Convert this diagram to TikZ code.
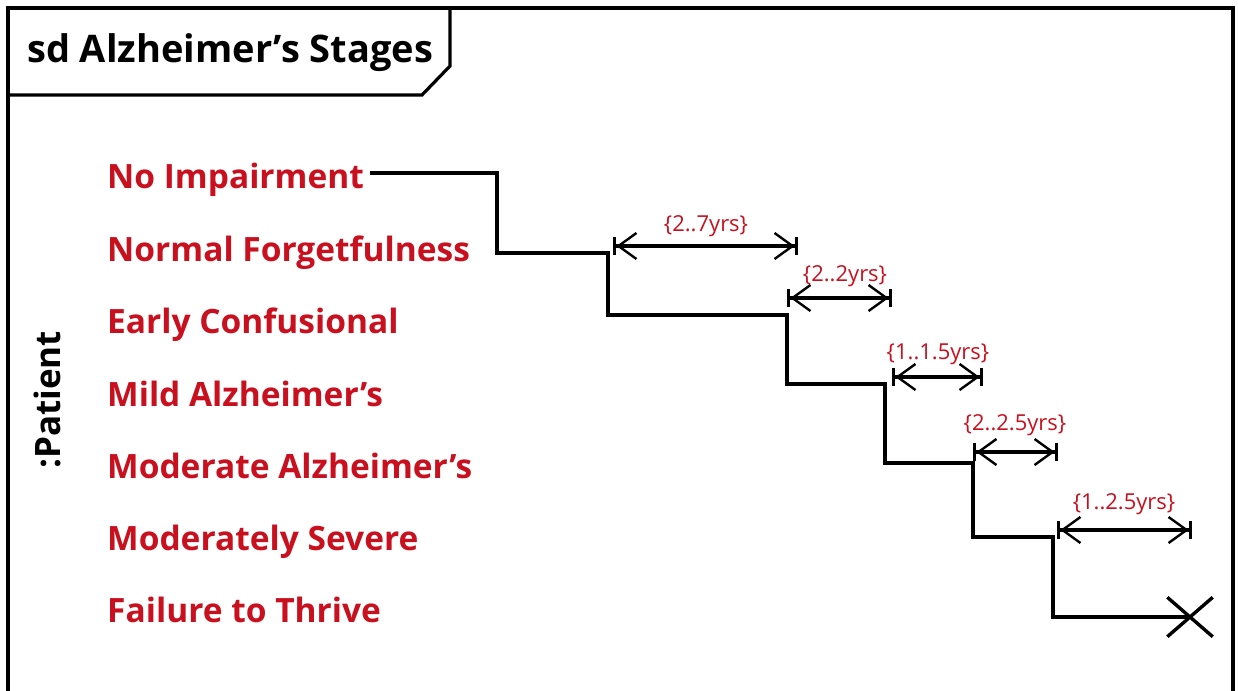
\documentclass[tikz,border=0pt]{standalone}
\usepackage{fontspec}
\setmainfont{Open Sans}
\usetikzlibrary{arrows.meta,shapes.misc}
\definecolor{stagered}{RGB}{200,16,30}
\begin{document}
\begin{tikzpicture}[x=1pt,y=-1pt,
  stage/.style={anchor=base west, text=stagered, font=\fontsize{33.5}{33.5}\selectfont\bfseries, inner sep=0pt},
  dur/.style={anchor=base, text=stagered, font=\fontsize{22}{22}\selectfont, inner sep=0pt},
  life/.style={line width=3.4pt, line join=miter},
  span/.style={line width=3.4pt, {Bar[width=18pt]Straight Barb[length=18pt,width=26pt,line width=2.4pt]}-{Straight Barb[length=18pt,width=26pt,line width=2.4pt]Bar[width=18pt]}},
  frame/.style={line width=3.2pt}]
\useasboundingbox (0,0) rectangle (1238,690);
\clip (0,0) rectangle (1238,690);
% frame
\draw[frame] (8,700) -- (8,8) -- (1233,8) -- (1233,700);
\draw[frame] (8,95) -- (422,95) -- (450,66) -- (450,8);
\node[anchor=base west, inner sep=0pt, font=\fontsize{38}{38}\selectfont\bfseries] (title) at (27,63) {sd Alzheimer’s Stages};
% lifeline name
\node[rotate=90, inner sep=0pt, font=\fontsize{35}{35}\selectfont\bfseries] (patient) at (47,400) {:Patient};
% stages
\node[stage] (s1) at (107,188) {No Impairment};
\node[stage] (s2) at (107,261) {Normal Forgetfulness};
\node[stage] (s3) at (107,333) {Early Confusional};
\node[stage] (s4) at (107,406) {Mild Alzheimer’s};
\node[stage] (s5) at (107,478) {Moderate Alzheimer’s};
\node[stage] (s6) at (107,550) {Moderately Severe};
\node[stage] (s7) at (107,622) {Failure to Thrive};
% step line
\coordinate (c0) at (370,173);
\coordinate (k1) at (497,173);
\coordinate (k2) at (608,253);
\coordinate (k3) at (787,315);
\coordinate (k4) at (885,384);
\coordinate (k5) at (973,463);
\coordinate (k6) at (1053,537);
\node[draw, cross out, line width=3.4pt, minimum width=42pt, minimum height=36pt, inner sep=0pt] (end) at (1190,617) {};
\draw[life] (c0) -- (k1) |- (k2) |- (k3) |- (k4) |- (k5) |- (k6) |- (end.center);
% durations
\coordinate (a1s) at (613,246); \coordinate (a1e) at (798,246);
\coordinate (a2s) at (787,298); \coordinate (a2e) at (892,298);
\coordinate (a3s) at (892,377); \coordinate (a3e) at (983,377);
\coordinate (a4s) at (973,452); \coordinate (a4e) at (1058,452);
\coordinate (a5s) at (1057,530); \coordinate (a5e) at (1192,530);
\draw[span] (a1s) -- (a1e);
\draw[span] (a2s) -- (a2e);
\draw[span] (a3s) -- (a3e);
\draw[span] (a4s) -- (a4e);
\draw[span] (a5s) -- (a5e);
\node[dur] (l1) at (706,231) {\{2..7yrs\}};
\node[dur] (l2) at (845,281) {\{2..2yrs\}};
\node[dur] (l3) at (938,359) {\{1..1.5yrs\}};
\node[dur] (l4) at (1015,430) {\{2..2.5yrs\}};
\node[dur] (l5) at (1124,509) {\{1..2.5yrs\}};
\end{tikzpicture}
\end{document}
